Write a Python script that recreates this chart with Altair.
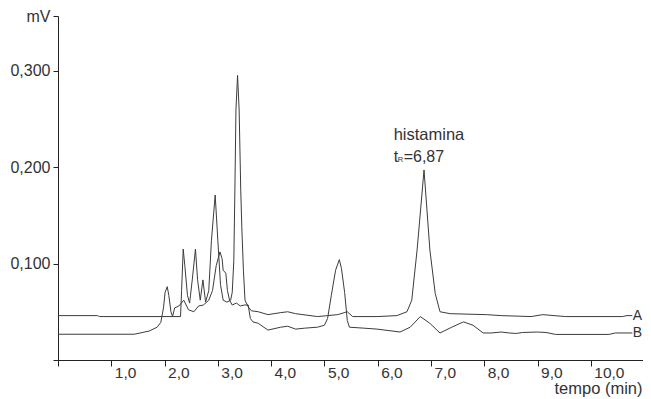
import altair as alt
import pandas as pd

# ---- data (time in min, signal in mV) ----
time_a = [0.00, 0.74, 0.78, 2.30, 2.32, 2.35, 2.38, 2.43, 2.47, 2.52, 2.58, 2.62, 2.67, 2.72, 2.77,
          2.83, 2.88, 2.95, 3.00, 3.05, 3.10, 3.17, 3.24, 3.27, 3.30, 3.32, 3.34, 3.37, 3.40, 3.43,
          3.45, 3.48, 3.51, 3.57, 3.63, 3.76, 3.94, 4.17, 4.31, 4.46, 4.87, 5.06, 5.25, 5.37, 5.43,
          5.53, 5.99, 6.36, 6.55, 6.64, 6.74, 6.87, 6.98, 7.08, 7.17, 7.36, 8.04, 8.32, 8.88, 9.10,
          9.31, 9.53, 10.59, 10.68, 10.78]
mv_a = [0.046, 0.046, 0.045, 0.045, 0.072, 0.115, 0.098, 0.067, 0.059, 0.083, 0.115, 0.083, 0.062,
        0.083, 0.060, 0.072, 0.124, 0.171, 0.124, 0.078, 0.062, 0.060, 0.062, 0.070, 0.103, 0.176,
        0.259, 0.295, 0.259, 0.176, 0.138, 0.093, 0.062, 0.055, 0.051, 0.050, 0.047, 0.049, 0.050,
        0.048, 0.045, 0.046, 0.047, 0.049, 0.050, 0.045, 0.045, 0.046, 0.050, 0.062, 0.114, 0.197,
        0.114, 0.069, 0.050, 0.048, 0.047, 0.046, 0.045, 0.047, 0.046, 0.045, 0.045, 0.046, 0.046]

time_b = [0.00, 1.43, 1.71, 1.86, 1.93, 1.98, 2.01, 2.05, 2.08, 2.12, 2.15, 2.19, 2.27, 2.36, 2.45,
          2.55, 2.64, 2.73, 2.83, 2.90, 2.97, 3.04, 3.08, 3.10, 3.15, 3.18, 3.22, 3.27, 3.35, 3.42,
          3.50, 3.57, 3.61, 3.66, 3.76, 3.94, 4.18, 4.31, 4.46, 4.63, 4.87, 5.00, 5.06, 5.13, 5.21,
          5.28, 5.32, 5.38, 5.43, 5.47, 5.74, 5.99, 6.42, 6.61, 6.80, 6.98, 7.17, 7.39, 7.61, 7.79,
          7.98, 8.13, 8.32, 8.47, 8.60, 8.72, 9.00, 9.16, 9.34, 10.34, 10.46, 10.78]
mv_b = [0.0267, 0.0267, 0.030, 0.034, 0.039, 0.054, 0.070, 0.076, 0.067, 0.050, 0.045, 0.054, 0.056,
        0.062, 0.052, 0.050, 0.056, 0.057, 0.062, 0.072, 0.098, 0.112, 0.105, 0.093, 0.090, 0.072,
        0.062, 0.057, 0.059, 0.056, 0.057, 0.057, 0.043, 0.0395, 0.038, 0.031, 0.034, 0.035, 0.032,
        0.033, 0.034, 0.036, 0.043, 0.067, 0.093, 0.104, 0.095, 0.070, 0.041, 0.034, 0.033, 0.032,
        0.029, 0.034, 0.045, 0.038, 0.028, 0.034, 0.0395, 0.036, 0.028, 0.028, 0.029, 0.028, 0.0275,
        0.0285, 0.029, 0.0285, 0.0265, 0.0265, 0.028, 0.028]

x_ticks = [0, 1, 2, 3, 4, 5, 6, 7, 8, 9, 10]
y_ticks = [0, 0.1, 0.2, 0.3, 0.3565]
X_MAX = 10.98
Y_MAX = 0.3565

series_names = ["A", "B"]
peak_label = "histamina"
peak_t, peak_sub, peak_val = "t", "R", "=6,87"

FONT = "Liberation Sans"
INK = "#333333"
LINE = "#3c3c3c"

df = pd.concat([
    pd.DataFrame({"t": time_a, "mv": mv_a, "trace": "A", "order": range(len(time_a))}),
    pd.DataFrame({"t": time_b, "mv": mv_b, "trace": "B", "order": range(len(time_b))}),
])

labels_df = pd.DataFrame({
    "t": [time_a[-1], time_b[-1]],
    "mv": [mv_a[-1], mv_b[-1]],
    "name": series_names,
})

annot_df = pd.DataFrame({"t": [6.30], "mv1": [0.2278], "mv2": [0.2057]})

x_scale = alt.Scale(domain=[0, X_MAX], nice=False, zero=False)
y_scale = alt.Scale(domain=[0, Y_MAX], nice=False, zero=False)

x_axis = alt.Axis(
    values=x_ticks,
    labelExpr="datum.value == 0 ? '' : replace(format(datum.value, '.1f'), '.', ',')",
    labelAlign="left", labelOffset=3, labelBaseline="alphabetic", labelPadding=11,
    tickSize=6, tickColor="#222222", domainColor="#222222",
    labelFont=FONT, labelFontSize=15.5, labelColor=INK,
    labelFlush=False, labelOverlap=False, grid=False,
    title="tempo (min)", titleAnchor="end", titleAlign="right",
    titleX=584, titleY=33.5, titleBaseline="alphabetic",
    titleFont=FONT, titleFontSize=16.5, titleFontWeight="normal", titleColor=INK,
)

y_axis = alt.Axis(
    values=y_ticks,
    labelExpr="datum.value > 0.35 ? 'mV' : (datum.value == 0 ? '' : replace(format(datum.value, '.3f'), '.', ','))",
    tickSize=5, tickColor="#222222", domainColor="#222222",
    labelPadding=3, labelFont=FONT, labelFontSize=16, labelColor=INK,
    labelFlush=False, labelOverlap=False, grid=False, title=None,
)

lines = alt.Chart(df).mark_line(color=LINE, strokeWidth=1).encode(
    x=alt.X("t:Q", scale=x_scale, axis=x_axis),
    y=alt.Y("mv:Q", scale=y_scale, axis=y_axis),
    detail="trace:N",
    order="order:Q",
)

series_text = alt.Chart(labels_df).mark_text(
    align="left", baseline="middle", dx=0.5, font=FONT, fontSize=14, color=INK
).encode(x=alt.X("t:Q", scale=x_scale), y=alt.Y("mv:Q", scale=y_scale), text="name:N")

hist_text = alt.Chart(annot_df).mark_text(
    align="left", baseline="alphabetic", font=FONT, fontSize=16.5, color=INK
).encode(x=alt.X("t:Q", scale=x_scale), y=alt.Y("mv1:Q", scale=y_scale), text=alt.value(peak_label))

t_text = alt.Chart(annot_df).mark_text(
    align="left", baseline="alphabetic", font=FONT, fontSize=16, color=INK
).encode(x=alt.X("t:Q", scale=x_scale), y=alt.Y("mv2:Q", scale=y_scale), text=alt.value(peak_t))

r_text = alt.Chart(annot_df).mark_text(
    align="left", baseline="alphabetic", font=FONT, fontSize=7.5, color=INK, dx=4.2, dy=0
).encode(x=alt.X("t:Q", scale=x_scale), y=alt.Y("mv2:Q", scale=y_scale), text=alt.value(peak_sub))

val_text = alt.Chart(annot_df).mark_text(
    align="left", baseline="alphabetic", font=FONT, fontSize=16, color=INK, dx=10
).encode(x=alt.X("t:Q", scale=x_scale), y=alt.Y("mv2:Q", scale=y_scale), text=alt.value(peak_val))

chart = alt.layer(lines, series_text, hist_text, t_text, r_text, val_text).properties(
    width=585, height=344,
    autosize=alt.AutoSizeParams(type="none"),
    padding={"left": 50, "top": 8, "right": 0, "bottom": 39},
).configure_view(stroke=None)

chart.save("out.html", embed_options={"renderer": "svg", "actions": False})
